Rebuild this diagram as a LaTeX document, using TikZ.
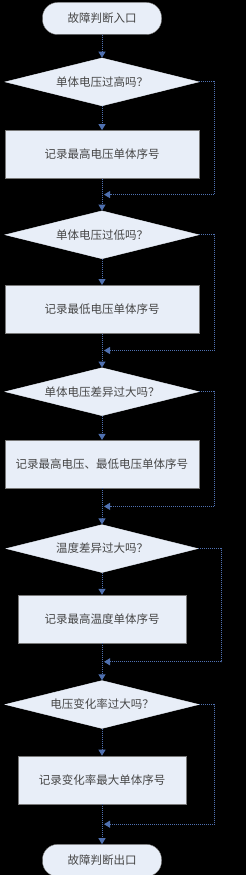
\documentclass[tikz,border=0pt]{standalone}
\usepackage{fontspec}
\newfontfamily\cjk{Noto Sans CJK SC}
\usetikzlibrary{shapes.geometric,arrows.meta,positioning,calc}
\usepackage{xcolor}
\definecolor{boxfill}{RGB}{232,238,248}
\definecolor{boxline}{RGB}{120,120,120}
\definecolor{flowblue}{RGB}{79,112,176}
\definecolor{txtgray}{RGB}{70,70,70}
\tikzset{
  termbox/.style={draw=boxline,line width=0.4pt,fill=boxfill,rounded corners=15pt,minimum width=119pt,minimum height=32pt,inner sep=0pt,text=txtgray,font=\cjk\fontsize{11.5}{13}\selectfont},
  decbox/.style={diamond,draw=boxfill,fill=boxfill,aspect=4,inner sep=0pt,minimum width=#1,minimum height=48pt,text=txtgray,font=\cjk\fontsize{11.5}{13}\selectfont},
  procbox/.style={draw=boxline,line width=0.5pt,fill=boxfill,minimum width=#1,minimum height=48pt,inner sep=0pt,text=txtgray,font=\cjk\fontsize{11.5}{13}\selectfont},
}
\begin{document}
\begin{tikzpicture}[
    x=1pt,y=1pt,
    arrow/.style={-{Triangle[width=7pt,length=6pt]},densely dotted,line width=1pt,flowblue},
    backflow/.style={-{Triangle[width=7pt,length=6pt]},densely dotted,line width=1pt,flowblue,shorten >=2pt},
  ]
    \fill[black] (0,0) rectangle (246,-875);
    \useasboundingbox (0,0) rectangle (246,-875);

    %────────── ENTRY ──────────────
    \node[termbox] (entry) at (102,-18.5) {故障判断入口};

    %────────── CELL HIGH ──────────
    \node[decbox=194pt,below=23pt of entry] (chkhi) {单体电压过高吗？};
    \node[procbox=194pt,below=24pt of chkhi] (rechi) {记录最高电压单体序号};
    \draw[arrow] (entry) -- (chkhi);
    \draw[arrow] (chkhi) -- (rechi);

    %────────── CELL LOW ───────────
    \node[decbox=194pt,below=32pt of rechi] (chklo) {单体电压过低吗？};
    \node[procbox=194pt,below=26pt of chklo] (reclo) {记录最低电压单体序号};
    \coordinate (m1) at ($(rechi.south)!0.5!(chklo.north)$);
    \coordinate (r1) at ($(chkhi.east)+(15pt,0)$);
    \draw[arrow] (rechi) -- (chklo);
    \draw[backflow] (chkhi.east) -- (r1) |- (m1);
    \draw[arrow] (chklo) -- (reclo);

    %────────── CELL SPREAD ────────
    \node[decbox=194pt,below=34pt of reclo] (chkdv) {单体电压差异过大吗？};
    \node[procbox=194pt,below=24pt of chkdv] (recdv) {记录最高电压、最低电压单体序号};
    \coordinate (m2) at ($(reclo.south)!0.5!(chkdv.north)$);
    \coordinate (r2) at ($(chklo.east)+(15pt,0)$);
    \draw[arrow] (reclo) -- (chkdv);
    \draw[backflow] (chklo.east) -- (r2) |- (m2);
    \draw[arrow] (chkdv) -- (recdv);

    %────────── TEMPERATURE ────────
    \node[decbox=192pt,below=36pt of recdv] (chkdt) {温度差异过大吗？};
    \node[procbox=168pt,below=22pt of chkdt] (recdt) {记录最高温度单体序号};
    \coordinate (m3) at ($(recdv.south)!0.5!(chkdt.north)$);
    \coordinate (r3) at ($(chkdv.east)+(15pt,0)$);
    \draw[arrow] (recdv) -- (chkdt);
    \draw[backflow] (chkdv.east) -- (r3) |- (m3);
    \draw[arrow] (chkdt) -- (recdt);

    %────────── VOLTAGE RATE ───────
    \node[decbox=194pt,below=37pt of recdt] (chkrt) {电压变化率过大吗？};
    \node[procbox=168pt,below=27pt of chkrt] (recrt) {记录变化率最大单体序号};
    \coordinate (m4) at ($(recdt.south)!0.5!(chkrt.north)$);
    \coordinate (r4) at ($(chkdt.east)+(23pt,0)$);
    \draw[arrow] (recdt) -- (chkrt);
    \draw[backflow] (chkdt.east) -- (r4) |- (m4);
    \draw[arrow] (chkrt) -- (recrt);

    %────────── EXIT ───────────────
    \node[termbox,below=40pt of recrt] (exit) {故障判断出口};
    \coordinate (m5) at ($(recrt.south)!0.5!(exit.north)$);
    \coordinate (r5) at ($(chkrt.east)+(15pt,0)$);
    \draw[arrow] (recrt) -- (exit);
    \draw[backflow] (chkrt.east) -- (r5) |- (m5);
  \end{tikzpicture}
\end{document}
